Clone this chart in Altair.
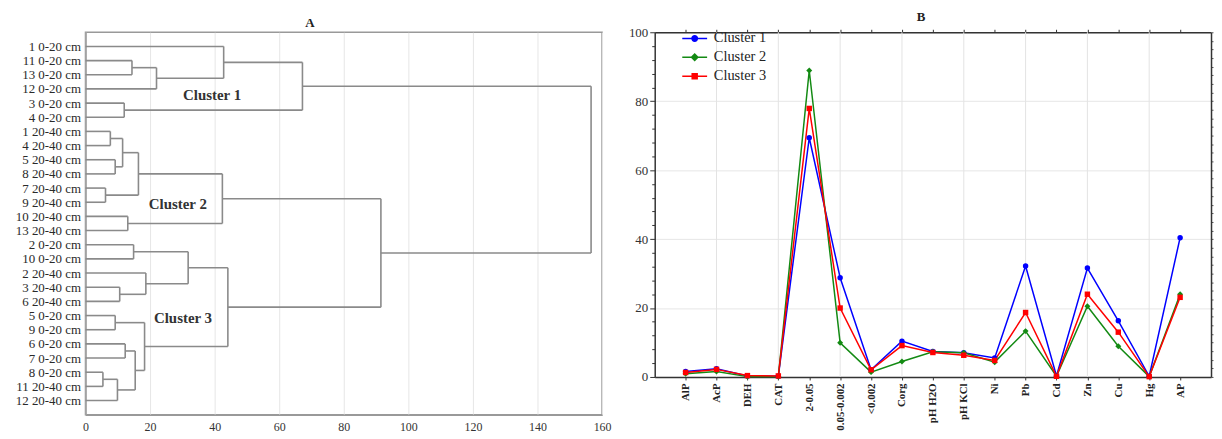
import json
import altair as alt
import pandas as pd

# ---------------- Panel A: dendrogram data ----------------
leaves = ["1 0-20 cm", "11 0-20 cm", "13 0-20 cm", "12 0-20 cm", "3 0-20 cm", "4 0-20 cm",
          "1 20-40 cm", "4 20-40 cm", "5 20-40 cm", "8 20-40 cm", "7 20-40 cm", "9 20-40 cm",
          "10 20-40 cm", "13 20-40 cm", "2 0-20 cm", "10 0-20 cm", "2 20-40 cm", "3 20-40 cm",
          "6 20-40 cm", "5 0-20 cm", "9 0-20 cm", "6 0-20 cm", "7 0-20 cm", "8 0-20 cm",
          "11 20-40 cm", "12 20-40 cm"]
merge_left = [1, 26, 0, 4, 28, 6, 8, 31, 10, 33, 12, 35, 14, 17, 16, 38, 19, 21, 23, 44, 43, 42, 41, 37, 30]
merge_right = [2, 3, 27, 5, 29, 7, 9, 32, 11, 34, 13, 36, 15, 18, 39, 40, 20, 22, 24, 25, 45, 46, 47, 48, 49]
merge_height = [14.4, 22.0, 42.8, 12.0, 67.2, 7.7, 9.2, 11.5, 6.2, 16.4, 13.1, 42.4, 14.9, 10.6,
                18.7, 31.8, 9.2, 12.3, 5.4, 9.9, 15.4, 18.3, 44.1, 91.5, 156.6]
cluster_names = ["Cluster 1", "Cluster 2", "Cluster 3"]
cluster_label_x = [39.2, 28.6, 30.2]
cluster_label_row = [3.45, 11.15, 19.2]

# ---------------- Panel B: profile data ----------------
categories = ["AlP", "AcP", "DEH", "CAT", "2-0.05", "0.05-0.002", "<0.002", "Corg", "pH H2O",
              "pH KCl", "Ni", "Pb", "Cd", "Zn", "Cu", "Hg", "AP"]
cluster1 = [1.6, 2.4, 0.3, 0.2, 69.4, 28.8, 2.1, 10.4, 7.4, 7.0, 5.5, 32.2, 0.3, 31.6, 16.3, 0.2, 40.4]
cluster2 = [0.9, 1.6, 0.1, 0.1, 88.9, 9.9, 1.4, 4.5, 7.3, 7.0, 4.3, 13.3, 0.2, 20.5, 8.9, 0.1, 24.0]
cluster3 = [1.3, 2.2, 0.4, 0.3, 77.9, 20.0, 2.1, 9.1, 7.1, 6.3, 4.8, 18.7, 0.2, 24.0, 13.0, 0.1, 23.1]
series_colors = ["#0000ff", "#138a13", "#ff0000"]
series_shapes = ["circle", "diamond", "square"]
grid_categories = categories[1::2]

FONT = "Liberation Serif"

# ---- dendrogram segments from the merge table ----
n = len(leaves)
node_y = list(range(n))
node_h = [0.0] * n
segs = []
for a, b, h in zip(merge_left, merge_right, merge_height):
    ya, yb = node_y[a], node_y[b]
    segs.append(dict(x=h, x2=h, y=ya, y2=yb))
    segs.append(dict(x=node_h[a], x2=h, y=ya, y2=ya))
    segs.append(dict(x=node_h[b], x2=h, y=yb, y2=yb))
    node_y.append((ya + yb) / 2)
    node_h.append(h)
seg_df = pd.DataFrame(segs)
lab_df = pd.DataFrame({"name": cluster_names, "x": cluster_label_x, "y": cluster_label_row})

xscaleA = alt.Scale(domain=[0, 160], nice=False)
yscaleA = alt.Scale(domain=[-1, n], reverse=True, nice=False, zero=False)
label_expr = json.dumps(leaves) + "[datum.value]"

xaxisA = alt.Axis(values=list(range(0, 161, 20)), title=None, grid=True, gridColor="#e6e6e6",
                  ticks=False, labelPadding=7, labelFontSize=12, labelColor="#333",
                  labelFont=FONT, domainColor="#999", domainWidth=1.5, labelFlush=False)
yaxisA = alt.Axis(values=list(range(n)), labelExpr=label_expr, title=None, grid=False,
                  ticks=False, labelPadding=5, labelFontSize=13, labelColor="#2a2a2a",
                  labelFont=FONT, domainColor="#999", domainWidth=1.5, minExtent=77,
                  labelOverlap=False, labelSeparation=0)

dendro = alt.Chart(seg_df).mark_rule(color="#8a8a8a", strokeWidth=1.6).encode(
    x=alt.X("x:Q", scale=xscaleA, axis=xaxisA),
    x2="x2:Q",
    y=alt.Y("y:Q", scale=yscaleA, axis=yaxisA),
    y2="y2:Q",
)
clabels = alt.Chart(lab_df).mark_text(font=FONT, fontSize=15, fontWeight="bold", color="#333").encode(
    x=alt.X("x:Q", scale=xscaleA, axis=xaxisA), y=alt.Y("y:Q", scale=yscaleA, axis=yaxisA),
    text="name:N")

chartA = alt.layer(dendro, clabels).properties(
    width=520, height=385,
    title=alt.TitleParams("A", font=FONT, fontSize=13, fontWeight="bold", anchor="middle",
                          frame="bounds", offset=2, color="#222"),
    view=alt.ViewBackground(stroke="#999", strokeWidth=1.5),
)

# ---------------- Panel B ----------------
rows = []
for name, vals in zip(cluster_names, [cluster1, cluster2, cluster3]):
    for c, v in zip(categories, vals):
        rows.append({"cat": c, "value": v, "cluster": name})
dfB = pd.DataFrame(rows)

xscaleB = alt.Scale(type="point", domain=categories, padding=1)
yscaleB = alt.Scale(domain=[0, 100], nice=False)
color = alt.Color("cluster:N", scale=alt.Scale(domain=cluster_names, range=series_colors), legend=None)

rule_df = pd.DataFrame({"cat": grid_categories})
vgrid = alt.Chart(rule_df).mark_rule(color="#e3e3e3", strokeWidth=1).encode(
    x=alt.X("cat:N", scale=xscaleB, sort=categories,
            axis=alt.Axis(orient="top", labels=False, title=None, tickSize=3, tickColor="#333",
                          domainColor="#333", domainWidth=1.5, grid=False, values=categories)))

lines = alt.Chart(dfB).mark_line(strokeWidth=1.5).encode(
    x=alt.X("cat:N", scale=xscaleB, sort=categories,
            axis=alt.Axis(orient="bottom", labelAngle=270, labelFont=FONT, labelFontSize=11,
                          labelFontWeight="bold", labelColor="#222", labelPadding=3, tickSize=3,
                          tickColor="#333", domainColor="#333", domainWidth=1.5, title=None,
                          grid=False)),
    y=alt.Y("value:Q", scale=yscaleB,
            axis=alt.Axis(orient="left", values=[v * 4 for v in range(26)],
                          labelExpr="datum.value % 20 === 0 ? datum.label : ''",
                          tickSize={"condition": {"test": "datum.value % 20 === 0", "value": 5}, "value": 3},
                          gridOpacity={"condition": {"test": "datum.value % 20 === 0", "value": 1}, "value": 0},
                          grid=True, gridColor="#e6e6e6", labelFont=FONT, labelFontSize=13,
                          labelColor="#333", labelPadding=2, tickColor="#333", domainColor="#333",
                          domainWidth=1.5, title=None)),
    color=color,
    order=alt.Order("cat_idx:Q"),
).transform_calculate(cat_idx="indexof(" + json.dumps(categories) + ", datum.cat)")

point_layers = []
for i, (name, shp) in enumerate(zip(cluster_names, series_shapes)):
    yax = (alt.Axis(orient="right", labels=False, title=None, grid=False, tickSize=2,
                    tickColor="#555", domainColor="#333", domainWidth=1.5,
                    values=[v * 2.5 for v in range(41)]) if i == 0 else None)
    point_layers.append(
        alt.Chart(dfB).transform_filter(alt.datum.cluster == name)
        .mark_point(shape=shp, filled=True, size=30 if shp != "diamond" else 36, opacity=1)
        .encode(x=alt.X("cat:N", scale=xscaleB, sort=categories, axis=None),
                y=alt.Y("value:Q", scale=yscaleB, axis=yax),
                color=color))

line_rect = "M-2.5,-0.15H2.5V0.15H-2.5Z "
legend_paths = [
    line_rect + "M0.7,0A0.7,0.7 0 1,1 -0.7,0A0.7,0.7 0 1,1 0.7,0Z",
    line_rect + "M0,-0.85L0.85,0L0,0.85L-0.85,0Z",
    line_rect + "M-0.65,-0.65H0.65V0.65H-0.65Z",
]
leg = alt.Legend(orient="none", legendX=606, legendY=-1, title=None, symbolOpacity=1,
                 labelFont=FONT, labelFontSize=14.5, labelColor="#222", labelOffset=12,
                 rowPadding=4, symbolSize=100, padding=0, symbolStrokeWidth=0)
legend_layer = alt.Chart(dfB).mark_point(filled=True, opacity=0, size=100).encode(
    x=alt.X("cat:N", scale=xscaleB, sort=categories, axis=None),
    y=alt.Y("value:Q", scale=yscaleB, axis=None),
    color=alt.Color("cluster:N", scale=alt.Scale(domain=cluster_names, range=series_colors), legend=leg),
    shape=alt.Shape("cluster:N", scale=alt.Scale(domain=cluster_names, range=legend_paths), legend=leg),
)

chartB = alt.layer(legend_layer, vgrid, lines, *point_layers).resolve_axis(
    x="independent", y="independent").properties(
    width=560, height=347,
    title=alt.TitleParams("B", font=FONT, fontSize=13, fontWeight="bold", anchor="middle",
                          frame="bounds", offset=2, color="#222"),
    view=alt.ViewBackground(stroke=None),
)

chart = alt.hconcat(chartA, chartB, spacing=53, bounds="flush").configure(
    padding={"left": 0, "top": 2, "right": 0, "bottom": 0}, font=FONT)

chart.save("out.html", embed_options={"renderer": "svg", "actions": False})
